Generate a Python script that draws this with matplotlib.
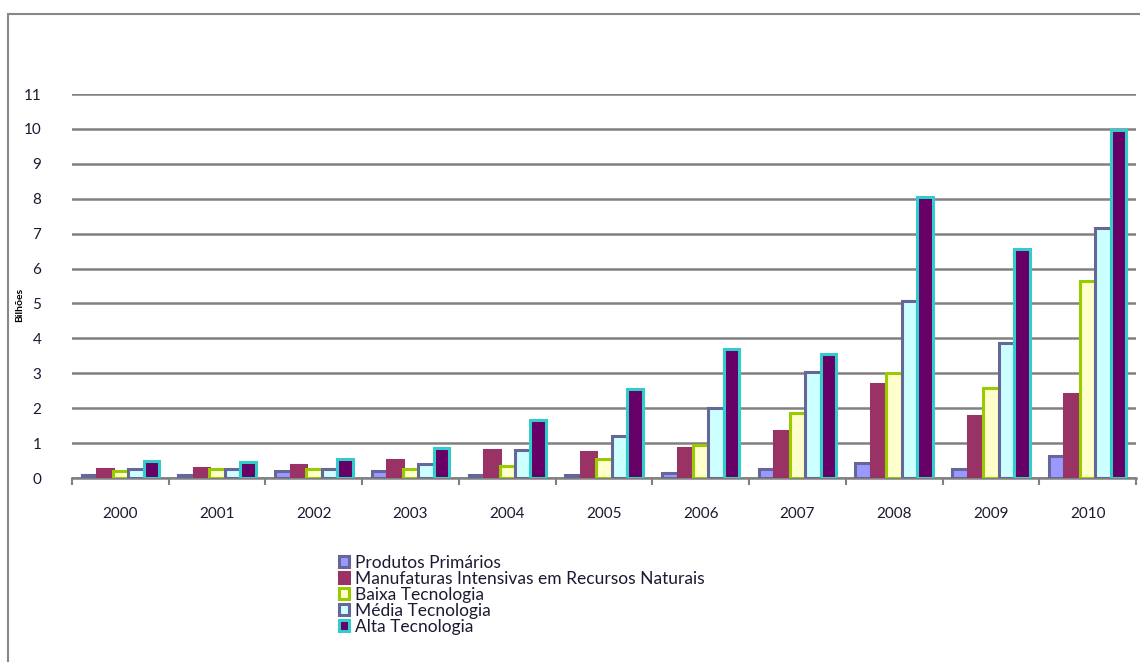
import numpy as np
import matplotlib
matplotlib.use("Agg")
import matplotlib.pyplot as plt
from matplotlib.patches import Rectangle

plt.rcParams.update({"font.family": ["Lato", "DejaVu Sans"], "font.size": 10})

YEARS = ["2000", "2001", "2002", "2003", "2004", "2005", "2006", "2007", "2008", "2009", "2010"]
SERIES = ["Produtos Primários", "Manufaturas Intensivas em Recursos Naturais",
          "Baixa Tecnologia", "Média Tecnologia", "Alta Tecnologia"]
PRIMARIOS = [0.10, 0.10, 0.20, 0.20, 0.10, 0.10, 0.15, 0.25, 0.42, 0.27, 0.62]
MANUFATURAS = [0.25, 0.30, 0.38, 0.52, 0.80, 0.75, 0.85, 1.35, 2.68, 1.78, 2.40]
BAIXA = [0.20, 0.25, 0.25, 0.25, 0.35, 0.55, 0.95, 1.85, 3.00, 2.58, 5.65]
MEDIA = [0.25, 0.25, 0.25, 0.40, 0.80, 1.20, 2.00, 3.05, 5.08, 3.87, 7.15]
ALTA = [0.50, 0.45, 0.55, 0.85, 1.65, 2.55, 3.70, 3.55, 8.05, 6.55, 9.97]

# (fill, edge) no estilo Excel 2003
STYLES = [("#9999FF", "#666699"), ("#993366", "#993366"), ("#FFFFCC", "#99CC00"),
          ("#CCFFFF", "#666699"), ("#660066", "#33CCCC")]

fig = plt.figure(figsize=(11.4, 6.62), dpi=100)
ax = fig.add_axes([72 / 1140, 184 / 662, 1064 / 1140, 384 / 662])

x = np.arange(len(YEARS))
w = 0.16
handles = []
for i, (vals, (fc, ec)) in enumerate(zip([PRIMARIOS, MANUFATURAS, BAIXA, MEDIA, ALTA], STYLES)):
    b = ax.bar(x + (i - 2) * w, vals, w, facecolor=fc, edgecolor=ec, linewidth=2.2,
               label=SERIES[i], zorder=3)
    handles.append(b)

ax.set_xlim(-0.5, 10.5)
ax.set_ylim(0, 11)
ax.set_yticks(range(12))
ax.yaxis.grid(True, color="#808080", lw=1.8, zorder=0)
ax.tick_params(axis="y", length=0, pad=22, labelsize=11, labelcolor="#1a1a33")
ax.set_xticks(x)
ax.set_xticklabels(YEARS)
ax.set_xticks(np.arange(-0.5, 11, 1), minor=True)
ax.tick_params(axis="x", which="major", length=0, pad=21, labelsize=11, labelcolor="#1a1a33")
ax.tick_params(axis="x", which="minor", length=5, width=1.5, color="#808080")
for s in ["top", "right", "left"]:
    ax.spines[s].set_visible(False)
ax.spines["bottom"].set_color("#808080")
ax.spines["bottom"].set_linewidth(1.8)

fig.text(20 / 1140, 1 - 305 / 662, "Bilhões", rotation=90, fontsize=7.5,
         fontweight="bold", ha="center", va="center")

fig.legend(handles=handles, loc="upper left", bbox_to_anchor=(339 / 1140, 1 - 555 / 662),
           frameon=False, fontsize=12.5, handlelength=0.6, handleheight=0.6,
           handletextpad=0.35, labelspacing=0.0, borderpad=0, borderaxespad=0,
           labelcolor="#1a1a33")

fig.patches.append(Rectangle((8 / 1140, -0.1), 1.2, 1.1 - 14 / 662, transform=fig.transFigure,
                             fill=False, edgecolor="#888888", lw=1.5))

fig.savefig("out.png", dpi=100)
